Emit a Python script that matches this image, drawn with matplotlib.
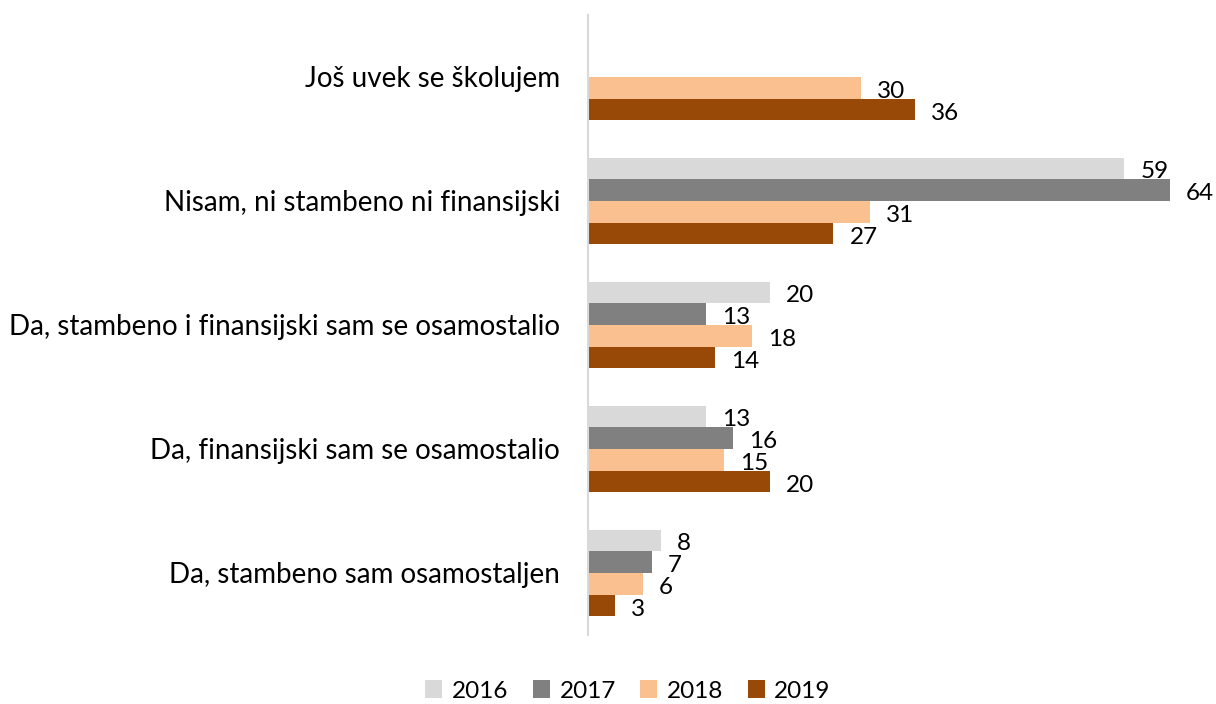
import matplotlib
matplotlib.use("Agg")
import matplotlib.pyplot as plt
import numpy as np
from matplotlib.patches import Patch

plt.rcParams['font.family'] = ['Lato', 'DejaVu Sans']

categories = [
    "Još uvek se školujem",
    "Nisam, ni stambeno ni finansijski",
    "Da, stambeno i finansijski sam se osamostalio",
    "Da, finansijski sam se osamostalio",
    "Da, stambeno sam osamostaljen",
]
series_names = ["2016", "2017", "2018", "2019"]
v2016 = [None, 59, 20, 13, 8]
v2017 = [None, 64, 13, 16, 7]
v2018 = [30, 31, 18, 15, 6]
v2019 = [36, 27, 14, 20, 3]
colors = ["#D9D9D9", "#808080", "#FAC090", "#984807"]

series = [v2016, v2017, v2018, v2019]

W, H = 1216, 704
fig = plt.figure(figsize=(W / 100, H / 100), dpi=100)
xmax = 69
ax = fig.add_axes([588 / W, (H - 635) / H, (xmax * 9.09) / W, 620 / H])

h = 0.175
y = np.arange(len(categories))
for j, (vals, c) in enumerate(zip(series, colors)):
    yy = y + (j - 1.5) * h
    for yi, v in zip(yy, vals):
        if v is None:
            continue
        ax.barh(yi, v, height=h, color=c, edgecolor='none')
        ax.annotate(str(v), xy=(v, yi), xytext=(11.5, -2.5), textcoords='offset points',
                    ha='left', va='center', fontsize=17.5, color='black')

ax.set_xlim(0, xmax)
ax.set_ylim(4.5, -0.5)
ax.set_yticks(y)
ax.set_yticklabels(categories, fontsize=20)
ax.tick_params(axis='y', length=0, pad=20)
ax.set_xticks([])
for s in ['top', 'right', 'bottom']:
    ax.spines[s].set_visible(False)
ax.spines['left'].set_color('#D9D9D9')
ax.spines['left'].set_linewidth(1.5)

handles = [Patch(facecolor=c, edgecolor='none') for c in colors]
fig.legend(handles, series_names, loc='center', bbox_to_anchor=(628 / W, 1 - 691 / H),
           ncol=4, frameon=False, fontsize=17.5, handlelength=0.7, handleheight=0.7,
           handletextpad=0.4, columnspacing=1.0, borderaxespad=0)

fig.savefig("out.png", dpi=100)
